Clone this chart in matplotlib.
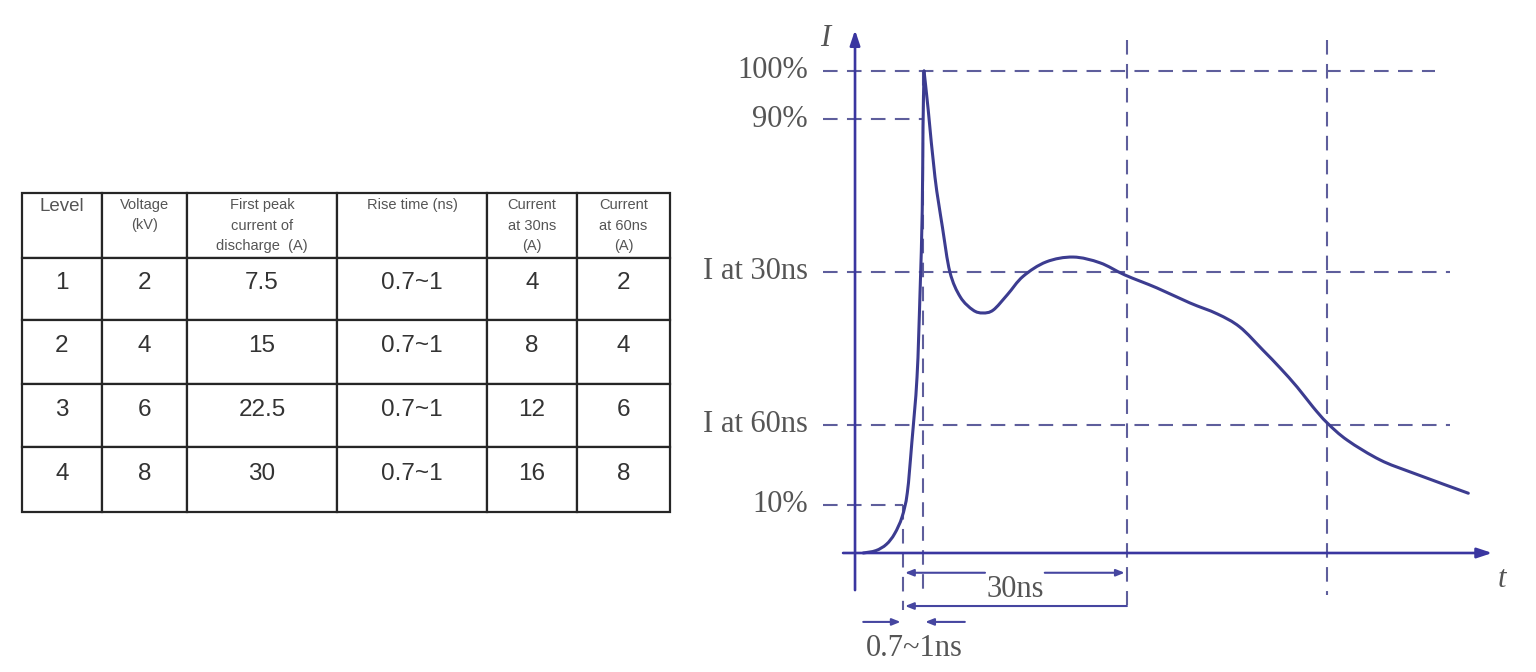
import matplotlib.pyplot as plt
import matplotlib.transforms as mtransforms
from matplotlib.path import Path
from matplotlib.patches import PathPatch

# table data
levels = ["1", "2", "3", "4"]
voltage_kv = ["2", "4", "6", "8"]
first_peak_a = ["7.5", "15", "22.5", "30"]
rise_time_ns = ["0.7~1", "0.7~1", "0.7~1", "0.7~1"]
current_30ns_a = ["4", "8", "12", "16"]
current_60ns_a = ["2", "4", "6", "8"]
col_labels = ["Level\n\n", "Voltage\n(kV)\n", "First peak\ncurrent of\ndischarge  (A)",
              "Rise time (ns)\n\n", "Current\nat 30ns\n(A)", "Current\nat 60ns\n(A)"]

# waveform (time in ns, current in % of first peak)
t_rise = [1.1, 2.8, 4.2, 5.3, 6.3, 7.0, 7.6, 8.3, 8.7, 9.0, 9.1, 9.24]
i_rise = [0.0, 0.5, 1.8, 4.0, 7.5, 12.5, 22.8, 36.5, 53.9, 71.2, 88.4, 100.0]
t_fall = [9.24, 9.8, 10.7, 11.7, 12.7, 14.1, 15.8, 17.1, 18.5, 20.4, 22.5, 25.6,
          29.2, 32.8, 36.1, 40.4, 44.8, 48.5, 51.5, 54.6, 56.9, 59.2, 61.3,
          63.2, 65.9, 70.3, 74.7, 82.1]
i_fall = [100.0, 91.9, 78.0, 67.6, 58.3, 53.1, 50.4, 49.8, 50.4, 53.6, 57.4, 60.4,
          61.4, 60.2, 57.7, 55.0, 51.9, 49.6, 46.9, 42.1, 38.4, 34.4, 30.3,
          27.0, 23.4, 19.3, 16.6, 12.4]

# reference levels on the current axis
level_vals = [100, 90, 58.3, 26.6, 10]
level_labels = ["100%", "90%", "I at 30ns", "I at 60ns", "10%"]
level_ends = [77.6, 9.0, 79.7, 79.7, 6.4]

# reference instants on the time axis
t_10 = 6.4
t_peak = 9.1
t_30 = 36.4
t_60 = 63.2

col_widths = [80, 85, 150, 150, 90, 93]
row_heights = [65, 62, 64, 63, 65]

axis_col = "#3a36a0"
curve_col = "#3c3c90"
dash_col = "#5e5e9c"
text_col = "#555555"


def smooth_path(xs, ys):
    # catmull-rom through the points, drawn as cubic beziers
    pts = list(zip(xs, ys))
    n = len(pts)
    verts = [pts[0]]
    codes = [Path.MOVETO]
    for i in range(n - 1):
        p0 = pts[max(i - 1, 0)]
        p1 = pts[i]
        p2 = pts[i + 1]
        p3 = pts[min(i + 2, n - 1)]
        c1 = (p1[0] + (p2[0] - p0[0]) / 6, p1[1] + (p2[1] - p0[1]) / 6)
        c2 = (p2[0] - (p3[0] - p1[0]) / 6, p2[1] - (p3[1] - p1[1]) / 6)
        verts += [c1, c2, p2]
        codes += [Path.CURVE4] * 3
    return Path(verts, codes)


fig = plt.figure(figsize=(15.36, 6.72), dpi=100)
fig.patch.set_facecolor("white")

# ---- table ----
tab_ax = fig.add_axes([22 / 1536, (672 - 512) / 672, 648 / 1536, 319 / 672])
tab_ax.axis("off")
rows = list(zip(levels, voltage_kv, first_peak_a, rise_time_ns, current_30ns_a, current_60ns_a))
tab = tab_ax.table(cellText=rows, colLabels=col_labels,
                   colWidths=[w / sum(col_widths) for w in col_widths],
                   cellLoc="center", bbox=[0, 0, 1, 1])
tab.auto_set_font_size(False)
for (r, c), cell in tab.get_celld().items():
    cell.set_height(row_heights[r] / sum(row_heights))
    cell.set_linewidth(1.6)
    cell.set_edgecolor("#262626")
    txt = cell.get_text()
    txt.set_fontfamily("Liberation Sans")
    if r == 0:
        txt.set_fontsize(13.5 if c == 0 else 10.5)
        txt.set_color(text_col)
        txt.set_linespacing(1.15 if c == 0 else 1.6)
    else:
        txt.set_fontsize(17.5)
        txt.set_color("#333333")
        txt.set_transform(mtransforms.Affine2D().translate(0, 6))

# ---- waveform sketch ----
ax = fig.add_axes([680 / 1536, 0, 856 / 1536, 1])
ax.set_xlim(-23.43, 91.16)
ax.set_ylim(-24.69, 114.73)
ax.axis("off")

dash = (0, (7, 4.5))
ax.hlines(level_vals, -4.3, level_ends, colors=dash_col, lw=1.5, linestyles=dash, zorder=1)
ax.vlines([t_10, t_peak, t_30, t_60], [10, 100, 106.4, 106.4], [-11.8, -8.3, -10.8, -8.7],
          colors=dash_col, lw=1.5, linestyles=dash, zorder=1)

for xs, ys in [(t_rise, i_rise), (t_fall, i_fall)]:
    ax.add_patch(PathPatch(smooth_path(xs, ys), facecolor="none", edgecolor=curve_col,
                           lw=2.2, joinstyle="miter", capstyle="round", zorder=3))

big_arrow = dict(arrowstyle="-|>,head_length=0.9,head_width=0.3", color=axis_col, lw=1.9,
                 shrinkA=0, shrinkB=0)
ax.annotate("", xy=(85.3, 0), xytext=(-1.6, 0), arrowprops=big_arrow)
ax.annotate("", xy=(0, 108.5), xytext=(0, -7.7), arrowprops=big_arrow)

serif = "Liberation Serif"
for v, lab in zip(level_vals, level_labels):
    ax.text(-6.3, v, lab, ha="right", va="center", fontsize=22, family=serif, color=text_col)
ax.text(-4.0, 106.8, "I", fontsize=22, family=serif, style="italic", color=text_col,
        ha="center", va="center")
ax.text(86.6, -5.6, "t", fontsize=22, family=serif, style="italic", color=text_col,
        ha="center", va="center")

small_arrow = dict(arrowstyle="-|>,head_length=0.5,head_width=0.2", color="#4646a0", lw=1.5,
                   shrinkA=0, shrinkB=0)
y_top, y_low, y_rise = -4.1, -11.0, -14.3
ax.annotate("", xy=(t_10 + 0.3, y_top), xytext=(17.4, y_top), arrowprops=small_arrow)
ax.annotate("", xy=(t_30 - 0.3, y_top), xytext=(25.4, y_top), arrowprops=small_arrow)
ax.annotate("", xy=(t_10 + 0.3, y_low), xytext=(t_30, y_low), arrowprops=small_arrow)
ax.annotate("", xy=(t_10 - 0.3, y_rise), xytext=(1.1, y_rise), arrowprops=small_arrow)
ax.annotate("", xy=(t_peak + 0.3, y_rise), xytext=(14.7, y_rise), arrowprops=small_arrow)
ax.text(21.4, -7.6, "30ns", fontsize=22, family=serif, color=text_col, ha="center", va="center")
ax.text(8.0, -19.8, "0.7~1ns", fontsize=22, family=serif, color=text_col, ha="center", va="center")

fig.savefig("out.png", dpi=100, facecolor="white")
